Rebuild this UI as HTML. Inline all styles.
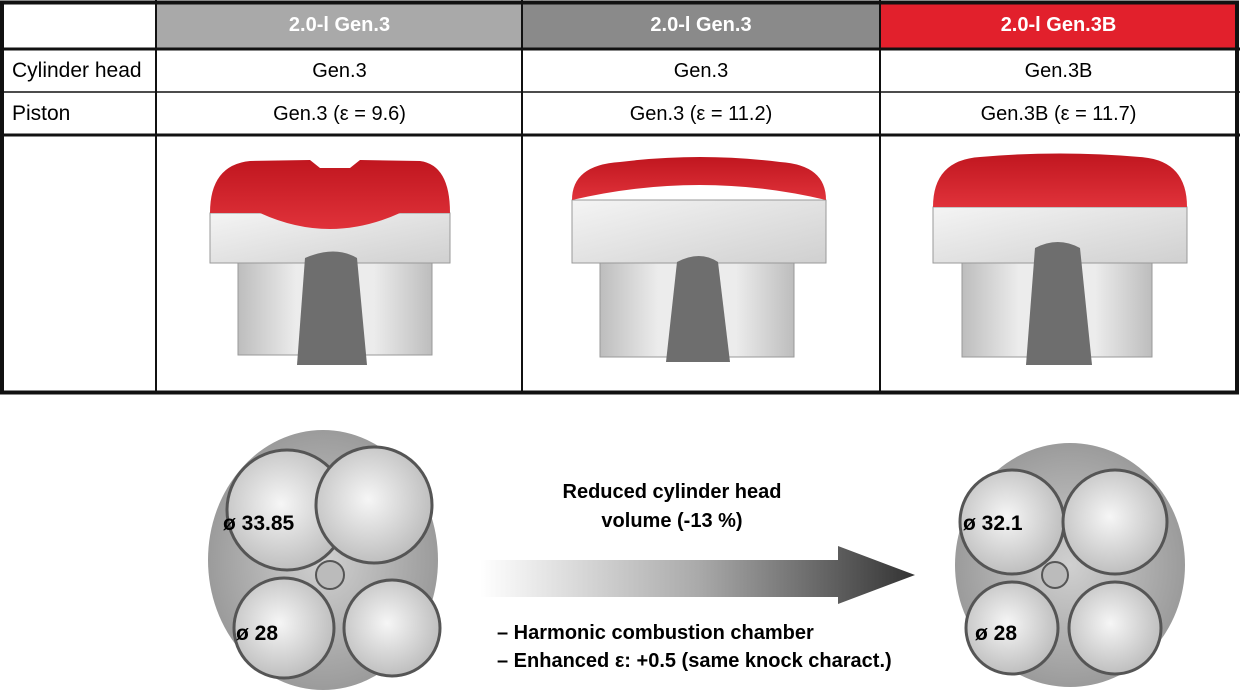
<!DOCTYPE html>
<html><head><meta charset="utf-8"><style>
body{margin:0;background:#fff;width:1240px;height:697px;overflow:hidden;position:relative;font-family:"Liberation Sans Narrow","Liberation Sans",sans-serif}
.t{position:absolute;white-space:nowrap}
</style></head><body>
<svg width="1240" height="697" style="position:absolute;left:0;top:0">
<defs>
<linearGradient id="ar" x1="0" x2="1"><stop offset="0" stop-color="#fff"/><stop offset="0.5" stop-color="#aaa"/><stop offset="1" stop-color="#333"/></linearGradient>
<radialGradient id="hd" cx="0.5" cy="0.5" r="0.6"><stop offset="0" stop-color="#d0d0d0"/><stop offset="0.85" stop-color="#9a9a9a"/><stop offset="1" stop-color="#c8c8c8"/></radialGradient>
<radialGradient id="vl" cx="0.45" cy="0.45" r="0.7"><stop offset="0" stop-color="#f6f6f6"/><stop offset="1" stop-color="#b0b0b0"/></radialGradient>
<linearGradient id="rd" x1="0" x2="0" y1="0" y2="1"><stop offset="0" stop-color="#c0161f"/><stop offset="1" stop-color="#e0323a"/></linearGradient>
<linearGradient id="bd" x1="0" x2="1" y1="0" y2="1"><stop offset="0" stop-color="#f4f4f4"/><stop offset="1" stop-color="#d0d0d0"/></linearGradient>
<linearGradient id="lw" x1="0" x2="1"><stop offset="0" stop-color="#bdbdbd"/><stop offset="0.3" stop-color="#ececec"/><stop offset="0.7" stop-color="#ececec"/><stop offset="1" stop-color="#bdbdbd"/></linearGradient>
</defs>
<!-- table -->
<rect x="157" y="4" width="365" height="44" fill="#a9a9a9"/>
<rect x="522" y="4" width="358" height="44" fill="#8a8a8a"/>
<rect x="880" y="4" width="357" height="44" fill="#e2202c"/>
<g stroke="#111" fill="none">
<rect x="2" y="2.5" width="1235" height="390" stroke-width="4"/>
<line x1="0" y1="49" x2="1240" y2="49" stroke-width="3"/>
<line x1="0" y1="92" x2="1240" y2="92" stroke-width="1.5"/>
<line x1="0" y1="135" x2="1240" y2="135" stroke-width="3"/>
<line x1="156" y1="0" x2="156" y2="393" stroke-width="2"/>
<line x1="522" y1="0" x2="522" y2="393" stroke-width="2"/>
<line x1="880" y1="0" x2="880" y2="393" stroke-width="2"/>
</g>
<!-- piston 1 -->
<rect x="238" y="262" width="194" height="93" fill="url(#lw)" stroke="#999"/>
<rect x="210" y="213" width="240" height="50" fill="url(#bd)" stroke="#999"/>
<path d="M210 213 Q210 165 250 161 L310 160 L320 168 L350 168 L360 160 L420 161 Q450 165 450 213 L400 213 Q330 245 260 213Z" fill="url(#rd)"/>
<path d="M297 365 L305 258 Q335 245 357 258 L367 365Z" fill="#6e6e6e"/>
<!-- piston 2 -->
<rect x="600" y="262" width="194" height="95" fill="url(#lw)" stroke="#999"/>
<rect x="572" y="200" width="254" height="63" fill="url(#bd)" stroke="#999"/>
<path d="M572 200 Q572 165 620 162 Q700 152 780 162 Q826 165 826 200 Q700 170 572 200Z" fill="url(#rd)"/>
<path d="M666 362 L677 262 Q700 250 718 262 L730 362Z" fill="#6e6e6e"/>
<!-- piston 3 -->
<rect x="962" y="262" width="190" height="95" fill="url(#lw)" stroke="#999"/>
<rect x="933" y="207" width="254" height="56" fill="url(#bd)" stroke="#999"/>
<path d="M933 207 Q933 160 980 157 Q1060 150 1140 157 Q1187 160 1187 207Z" fill="url(#rd)"/>
<path d="M1026 365 L1035 248 Q1058 236 1080 248 L1092 365Z" fill="#6e6e6e"/>
<!-- heads -->
<ellipse cx="323" cy="560" rx="115" ry="130" fill="url(#hd)"/>
<circle cx="287" cy="510" r="60" fill="url(#vl)" stroke="#555" stroke-width="3"/>
<circle cx="374" cy="505" r="58" fill="url(#vl)" stroke="#555" stroke-width="3"/>
<circle cx="284" cy="628" r="50" fill="url(#vl)" stroke="#555" stroke-width="3"/>
<circle cx="392" cy="628" r="48" fill="url(#vl)" stroke="#555" stroke-width="3"/>
<circle cx="330" cy="575" r="14" fill="#bbb" stroke="#555" stroke-width="2"/>
<ellipse cx="1070" cy="565" rx="115" ry="122" fill="url(#hd)"/>
<circle cx="1012" cy="522" r="52" fill="url(#vl)" stroke="#555" stroke-width="3"/>
<circle cx="1115" cy="522" r="52" fill="url(#vl)" stroke="#555" stroke-width="3"/>
<circle cx="1012" cy="628" r="46" fill="url(#vl)" stroke="#555" stroke-width="3"/>
<circle cx="1115" cy="628" r="46" fill="url(#vl)" stroke="#555" stroke-width="3"/>
<circle cx="1055" cy="575" r="13" fill="#bbb" stroke="#555" stroke-width="2"/>
<!-- arrow -->
<path d="M480 560 L838 560 L838 546 L915 575 L838 604 L838 597 L480 597Z" fill="url(#ar)"/>
</svg>
<div class="t" style="left:157px;width:365px;top:14px;text-align:center;color:#fff;font-weight:bold;font-size:20px">2.0-l Gen.3</div>
<div class="t" style="left:522px;width:358px;top:14px;text-align:center;color:#fff;font-weight:bold;font-size:20px">2.0-l Gen.3</div>
<div class="t" style="left:880px;width:357px;top:14px;text-align:center;color:#fff;font-weight:bold;font-size:20px">2.0-l Gen.3B</div>
<div class="t" style="left:12px;top:59px;font-size:21px">Cylinder head</div>
<div class="t" style="left:12px;top:102px;font-size:21px">Piston</div>
<div class="t" style="left:157px;width:365px;top:60px;text-align:center;font-size:20px">Gen.3</div>
<div class="t" style="left:522px;width:358px;top:60px;text-align:center;font-size:20px">Gen.3</div>
<div class="t" style="left:880px;width:357px;top:60px;text-align:center;font-size:20px">Gen.3B</div>
<div class="t" style="left:157px;width:365px;top:103px;text-align:center;font-size:20px">Gen.3 (ε = 9.6)</div>
<div class="t" style="left:522px;width:358px;top:103px;text-align:center;font-size:20px">Gen.3 (ε = 11.2)</div>
<div class="t" style="left:880px;width:357px;top:103px;text-align:center;font-size:20px">Gen.3B (ε = 11.7)</div>
<div class="t" style="left:472px;width:400px;top:478px;text-align:center;font-weight:bold;font-size:20px;line-height:29px">Reduced cylinder head<br>volume (-13 %)</div>
<div class="t" style="left:497px;top:619px;font-weight:bold;font-size:20px;line-height:28px">– Harmonic combustion chamber<br>– Enhanced ε: +0.5 (same knock charact.)</div>
<div class="t" style="left:223px;top:512px;font-weight:bold;font-size:21px">ø 33.85</div>
<div class="t" style="left:236px;top:622px;font-weight:bold;font-size:21px">ø 28</div>
<div class="t" style="left:963px;top:512px;font-weight:bold;font-size:21px">ø 32.1</div>
<div class="t" style="left:975px;top:622px;font-weight:bold;font-size:21px">ø 28</div>
</body></html>
